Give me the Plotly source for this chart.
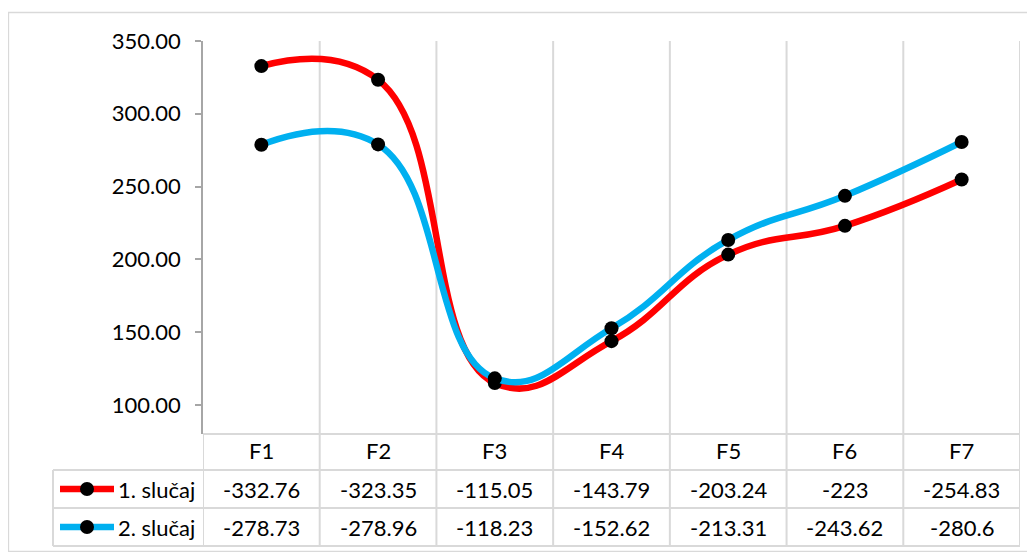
import plotly.graph_objects as go

categories = ["F1", "F2", "F3", "F4", "F5", "F6", "F7"]
series_names = ["1. slučaj", "2. slučaj"]
case1 = [-332.76, -323.35, -115.05, -143.79, -203.24, -223, -254.83]
case2 = [-278.73, -278.96, -118.23, -152.62, -213.31, -243.62, -280.6]
colors = ["#FF0000", "#00B0F0"]
y_ticks = [100, 150, 200, 250, 300, 350]

# page body has an 8px margin, so work in reference pixels and shift
OFF = 8
W, H = 1035 - OFF, 552 - OFF
L, R, T, B = 203, 1020, 41, 434  # plot area in reference pixels
PW, PH = R - L, B - T

def px_x(x):
    return (x - L) / PW

def px_y(y):
    return (B - y) / PH

FONT = "Lato, Calibri, Carlito, sans-serif"
FS = 22
GRID = "#d9d9d9"

fig = go.Figure()
x_idx = list(range(len(categories)))
for name, vals, col in zip(series_names, [case1, case2], colors):
    fig.add_trace(go.Scatter(
        x=x_idx, y=[-v for v in vals], name=name, mode="lines+markers",
        line=dict(color=col, width=6.5, shape="spline", smoothing=1.3),
        marker=dict(color="black", size=14),
        showlegend=False, cliponaxis=False,
    ))

shapes = []
# chart outer border
shapes.append(dict(type="rect", xref="paper", yref="paper",
                   x0=px_x(8.5), x1=px_x(1034), y0=px_y(551.5), y1=px_y(12.5),
                   line=dict(color=GRID, width=1.3), layer="below"))
# vertical category boundaries (plot + table)
for i in range(len(categories)):
    xb = i + 0.5
    shapes.append(dict(type="line", xref="x", yref="paper", x0=xb, x1=xb,
                       y0=px_y(546), y1=1, line=dict(color=GRID, width=2), layer="below"))
# left boundary in table part
shapes.append(dict(type="line", xref="x", yref="paper", x0=-0.5, x1=-0.5,
                   y0=px_y(546), y1=0, line=dict(color=GRID, width=2), layer="below"))
# table left edge
shapes.append(dict(type="line", xref="paper", yref="paper", x0=px_x(53), x1=px_x(53),
                   y0=px_y(546), y1=px_y(470), line=dict(color=GRID, width=2), layer="below"))
# horizontal table lines
shapes.append(dict(type="line", xref="x", yref="paper", x0=-0.5, x1=6.5,
                   y0=0, y1=0, line=dict(color=GRID, width=2), layer="below"))
for yy in [470, 508, 546]:
    shapes.append(dict(type="line", xref="paper", yref="paper", x0=px_x(53), x1=1,
                       y0=px_y(yy), y1=px_y(yy), line=dict(color=GRID, width=2), layer="below"))

annotations = []
for i, c in enumerate(categories):
    annotations.append(dict(x=i, y=px_y(451), xref="x", yref="paper", text=c,
                            xanchor="center", yanchor="middle",
                            showarrow=False, font=dict(family=FONT, size=FS, color="black")))
row_centers = [489, 527]
for vals, name, col, yc in zip([case1, case2], series_names, colors, row_centers):
    for i, v in enumerate(vals):
        annotations.append(dict(x=i, y=px_y(yc), xref="x", yref="paper", text=f"{v:g}",
                                xanchor="center", yanchor="middle",
                                showarrow=False, font=dict(family=FONT, size=FS, color="black")))
    # legend key
    shapes.append(dict(type="line", xref="paper", yref="paper", x0=px_x(60), x1=px_x(114),
                       y0=px_y(yc), y1=px_y(yc), line=dict(color=col, width=6.5)))
    shapes.append(dict(type="circle", xref="paper", yref="paper",
                       x0=px_x(87 - 7), x1=px_x(87 + 7), y0=px_y(yc + 7), y1=px_y(yc - 7),
                       fillcolor="black", line=dict(color="black", width=0)))
    annotations.append(dict(x=px_x(116), y=px_y(yc), xref="paper", yref="paper", text=name,
                            xanchor="left", yanchor="middle", showarrow=False,
                            font=dict(family=FONT, size=FS, color="black")))

fig.update_layout(
    width=W, height=H,
    margin=dict(l=L - OFF, r=(1035 - R), t=T - OFF, b=(552 - B), pad=0),
    paper_bgcolor="white", plot_bgcolor="white",
    xaxis=dict(range=[-0.5, 6.5], showgrid=False, zeroline=False, showticklabels=False,
               ticks="", showline=False, fixedrange=True),
    yaxis=dict(range=[80, 350], tickvals=y_ticks, tickformat=".2f", showgrid=False,
               zeroline=False, showline=True, linecolor="#a6a6a6", linewidth=1.5,
               ticks="outside", ticklen=6, tickcolor="#a6a6a6", tickwidth=1.5,
               ticklabelstandoff=10,
               tickfont=dict(family=FONT, size=FS, color="black")),
    shapes=shapes, annotations=annotations,
)

fig.write_html("out.html")
